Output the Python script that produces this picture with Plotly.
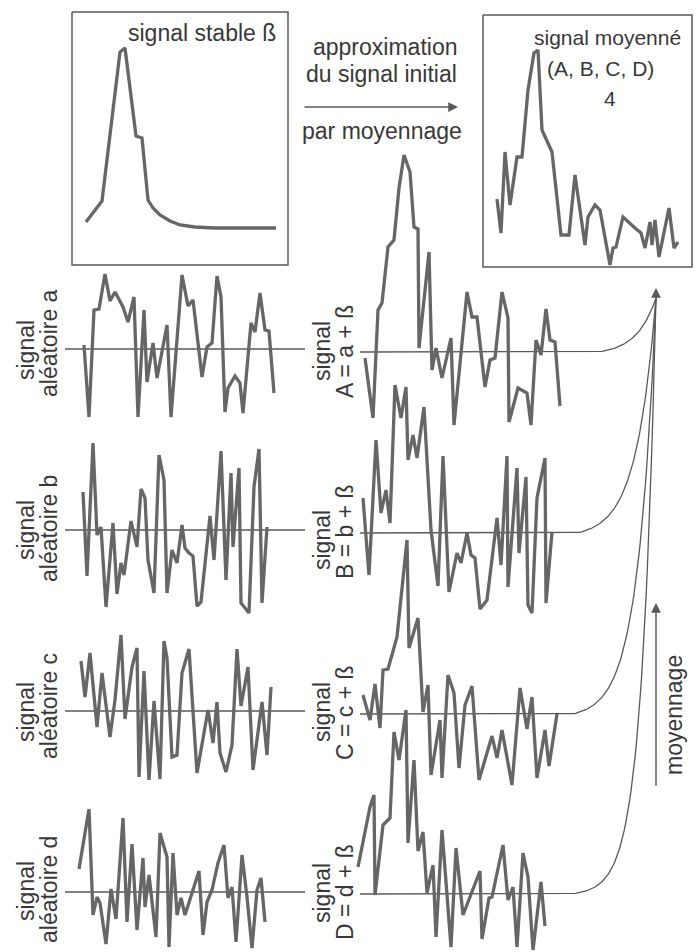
import numpy as np
import plotly.graph_objects as go

W, H = 696, 952

# ---------------- data (time in arbitrary units, amplitude relative to baseline) -------------
beta_t = [0, 16, 34, 39, 50, 56, 62, 67, 74, 84, 94, 109, 129, 190]
beta_v = [6, 27, 176, 180, 92, 90, 28, 20, 13, 7, 3, 1, 0, 0]

avg_t = [0, 4, 8, 13, 20, 25, 31, 37, 41, 45, 55, 64, 72, 78, 88, 91, 98, 103, 113, 116, 119,
         126, 138, 144, 148, 153, 155, 158, 162, 172, 177, 181]
avg_v = [36, 2, 83, 30, 78, 78, 145, 182, 185, 105, 83, 0, 0, 60, -10, 18, 30, 25, -30, -13, -12,
         18, 7, 2, -13, 13, -10, 15, -22, 27, -13, -7]

a_t = [4, 9, 14, 19, 25, 30, 35, 43, 48, 54, 58, 64, 67, 73, 77, 87, 91, 102, 108, 113, 122, 127,
       132, 137, 141, 145, 148, 155, 160, 163, 171, 175, 180, 185, 189, 194]
a_v = [4, -68, 39, 40, 75, 48, 57, 42, 27, 52, -68, 39, -33, 6, -29, 24, -68, 74, 43, 49, -28, 2,
       6, 73, 52, -63, -39, -27, -34, -64, 26, 17, 56, 19, 18, -44]

b_t = [3, 7, 13, 17, 21, 26, 33, 37, 41, 44, 51, 57, 61, 65, 68, 74, 79, 84, 87, 92, 97, 102, 105,
       109, 113, 117, 121, 130, 134, 141, 146, 151, 153, 159, 161, 169, 174, 179, 182, 187]
b_v = [38, -46, 87, -5, 3, -77, 7, -64, -33, -45, 9, -17, 41, 32, -30, -63, 75, 50, -63, -20, -33,
       5, -18, -23, -26, -76, -72, 14, -30, 79, -50, 57, -17, 62, -73, -83, 43, 81, -73, 3]

c_t = [1, 5, 10, 17, 22, 30, 35, 41, 45, 52, 57, 59, 64, 69, 74, 80, 84, 87, 92, 97, 102, 109, 117,
       128, 133, 137, 140, 146, 152, 157, 161, 168, 173, 182, 187, 191]
c_v = [50, 14, 58, -16, 38, -26, 11, 76, -8, 44, 63, -66, 40, -69, 10, -68, 70, 53, -46, -44, 38,
       62, -62, 1, -32, 9, -42, -61, -34, 62, 5, 44, -59, 9, -44, 24]

d_t = [-1, 9, 13, 17, 20, 26, 31, 36, 43, 47, 52, 57, 63, 65, 69, 76, 80, 87, 89, 93, 97, 101, 105,
       119, 123, 127, 132, 138, 144, 148, 152, 156, 162, 167, 172, 177, 181, 185]
d_v = [23, 83, -23, -5, -11, -52, 3, -27, 74, -30, 48, -38, 34, -15, 17, -45, 59, 35, -55, 39, -23,
       -6, -23, 21, -43, -10, 2, 29, 47, -6, 5, -50, 37, -5, -56, 2, 14, -30]

A_t = [5, 13, 18, 22, 28, 34, 39, 44, 50, 54, 58, 59, 69, 72, 76, 82, 91, 94, 107, 112, 117, 125,
       130, 135, 142, 148, 149, 158, 167, 171, 176, 181, 186, 190, 195, 200]
A_v = [-6, -66, 42, 49, 105, 112, 164, 197, 180, 125, 123, 4, 100, -18, 4, -26, 14, -73, 60, 35,
       35, -35, -8, -6, 60, 34, -70, -36, -41, -73, 12, -3, 43, 12, 10, -54]

B_t = [3, 9, 16, 21, 26, 30, 35, 41, 46, 48, 53, 57, 64, 71, 78, 83, 89, 97, 101, 107, 111, 115,
       120, 127, 137, 141, 147, 148, 157, 159, 166, 168, 172, 177, 185, 186, 192]
B_v = [35, -42, 93, 20, 43, 10, 148, 115, 146, 73, 98, 75, 126, 3, -53, 77, -59, -20, -30, 0, -22,
       -25, -76, -67, 15, -32, 77, -54, 65, -20, 56, -72, -80, 35, 75, -70, 1]

C_t = [3, 10, 15, 20, 23, 28, 37, 47, 49, 58, 63, 68, 71, 80, 82, 88, 94, 99, 105, 112, 119, 132,
       137, 142, 152, 160, 167, 172, 177, 185, 189, 197]
C_v = [19, -6, 30, -14, 44, 45, 77, 174, 66, 96, 2, 29, -61, -6, -64, 39, 21, -54, 9, 28, -66, -22,
       -44, -16, -71, 26, -15, 17, -64, -16, -52, 0]

D_t = [-2, 10, 14, 15, 23, 30, 34, 39, 46, 48, 54, 58, 63, 67, 73, 76, 82, 91, 96, 103, 120, 122,
       129, 132, 143, 148, 153, 157, 163, 168, 173, 181, 185]
D_v = [27, 87, 99, -1, 69, 76, 162, 134, 184, 51, 134, 43, 62, 1, 29, -43, 64, -53, 46, -21, 23,
       -45, -4, -3, 49, -6, 7, -53, 41, 17, -56, 12, -32]

left_labels = ["aléatoire a", "aléatoire b", "aléatoire c", "aléatoire d"]
mid_labels = ["A = a + ß", "B = b + ß", "C = c + ß", "D = d + ß"]

# ---------------- styling / layout geometry (pixels) ----------------
SIG = "#666666"
INK = "#595959"
TXT = "#383838"
FONT = "Liberation Sans, Arial, sans-serif"
FS = 23

fig = go.Figure()

# overlay axis 1 = full page in pixel units (for frames, baselines, arrows, text)
layout_axes = {
    "xaxis": dict(domain=[0, 1], range=[0, W], visible=False, fixedrange=True),
    "yaxis": dict(domain=[0, 1], range=[H, 0], visible=False, fixedrange=True),
}


def add_panel(idx, t, v, left, right, top, bottom, t0px, base_py, width=3.3):
    fig.add_trace(go.Scatter(x=t, y=v, mode="lines",
                             line=dict(color=SIG, width=width),
                             xaxis=f"x{idx}", yaxis=f"y{idx}",
                             hoverinfo="skip", showlegend=False))
    layout_axes[f"xaxis{idx}"] = dict(domain=[left / W, right / W],
                                      range=[left - t0px, right - t0px],
                                      visible=False, fixedrange=True, anchor=f"y{idx}")
    layout_axes[f"yaxis{idx}"] = dict(domain=[1 - bottom / H, 1 - top / H],
                                      range=[base_py - bottom, base_py - top],
                                      visible=False, fixedrange=True, anchor=f"x{idx}")


def line(xs, ys, width=1.5):
    fig.add_trace(go.Scatter(x=xs, y=ys, mode="lines", line=dict(color=INK, width=width),
                             hoverinfo="skip", showlegend=False))


# frames
line([72, 288, 288, 72, 72], [12, 12, 265, 265, 12])
line([483, 692, 692, 483, 483], [15, 15, 267, 267, 15])

# left baselines
left_bases = [349, 530, 711, 892]
for yb in left_bases:
    line([65, 305], [yb, yb])

# middle baselines + converging curves
mid_bases = [352, 533, 714, 894]
curve_start = [598, 577, 573, 570]
curve_k = [3.0, 4.0, 4.6, 6.0]
APEX_X, APEX_Y = 656, 298
for yb, x0, k in zip(mid_bases, curve_start, curve_k):
    xs = np.linspace(x0, APEX_X, 80)
    u = (xs - x0) / (APEX_X - x0)
    f = (np.exp(k * u) - 1) / (np.exp(k) - 1)
    ys = yb - (yb - APEX_Y) * f
    line([360] + list(xs), [yb] + list(ys), width=1.3)

# signals
add_panel(2, beta_t, beta_v, 72, 288, 12, 265, 86, 228)
add_panel(3, avg_t, avg_v, 483, 692, 15, 267, 497, 235)
left_data = [(a_t, a_v), (b_t, b_v), (c_t, c_v), (d_t, d_v)]
left_boxes = [(255, 440), (430, 625), (620, 790), (790, 952)]
for i, ((t, v), (tp, bt), yb) in enumerate(zip(left_data, left_boxes, left_bases)):
    add_panel(4 + i, t, v, 60, 300, tp, bt, 80, yb)
mid_data = [(A_t, A_v), (B_t, B_v), (C_t, C_v), (D_t, D_v)]
mid_boxes = [(140, 440), (360, 630), (520, 800), (690, 952)]
for i, ((t, v), (tp, bt), yb) in enumerate(zip(mid_data, mid_boxes, mid_bases)):
    add_panel(8 + i, t, v, 352, 600, tp, bt, 360, yb)

annotations = []


def text(s, x, y, angle=0, size=FS):
    annotations.append(dict(text=s, x=x, y=y, xref="x", yref="y", showarrow=False,
                            textangle=angle, xanchor="center", yanchor="middle",
                            font=dict(family=FONT, size=size, color=TXT)))


def arrow(x_head, y_head, x_tail, y_tail):
    annotations.append(dict(x=x_head, y=y_head, ax=x_tail, ay=y_tail, xref="x", yref="y",
                            axref="x", ayref="y", text="", showarrow=True, arrowhead=2,
                            arrowsize=1.3, arrowwidth=1.5, arrowcolor=INK))


text("signal stable ß", 202, 33)
text("approximation", 385, 47)
text("du signal initial", 381, 74)
text("par moyennage", 382, 131)
text("signal moyenné", 607, 37, size=21)
text("(A, B, C, D)", 600, 68, size=21)
text("4", 610, 98, size=21)
arrow(458, 107, 303, 107)

left_sig_y = [350, 530, 712, 891]
left_ale_y = [343, 529, 706, 890]
for lab, ys, ya in zip(left_labels, left_sig_y, left_ale_y):
    text("signal", 26, ys, angle=-90)
    text(lab, 49, ya, angle=-90)

mid_sig_y = [351, 540, 712, 893]
mid_lab_y = [352, 532, 713, 892]
for lab, ys, ya in zip(mid_labels, mid_sig_y, mid_lab_y):
    text("signal", 322, ys, angle=-90)
    text(lab, 345, ya, angle=-90)

text("moyennage", 674, 715, angle=-90)
arrow(656, 603, 656, 787)
arrow(656, 288, 656, 302)

fig.update_layout(width=W, height=H, margin=dict(l=0, r=0, t=0, b=0),
                  paper_bgcolor="white", plot_bgcolor="rgba(0,0,0,0)",
                  showlegend=False, annotations=annotations, **layout_axes)

fig.write_html("out.html", config={"displayModeBar": False},
               post_script="document.body.style.margin='0';")
